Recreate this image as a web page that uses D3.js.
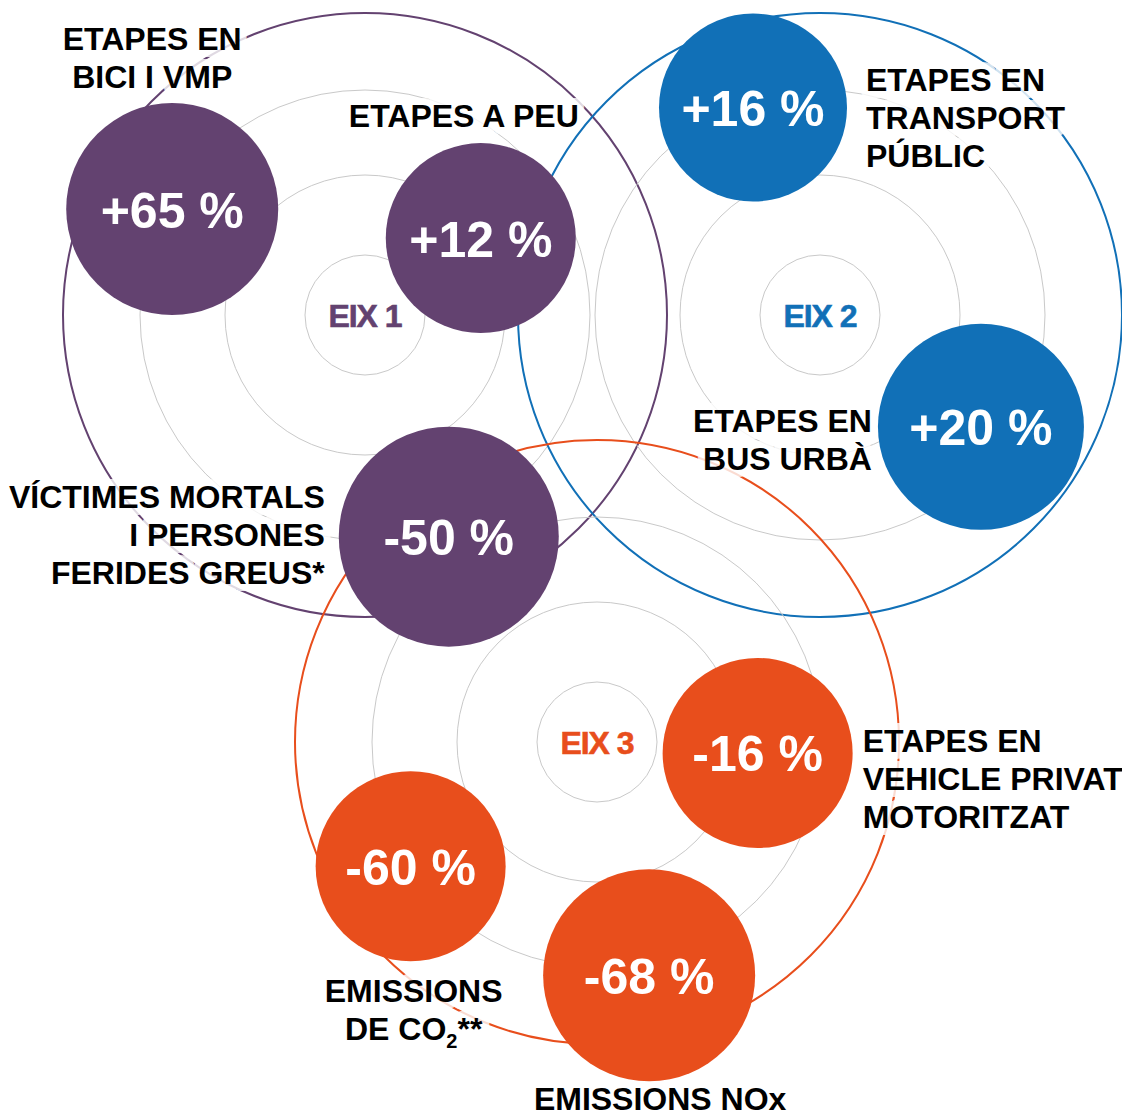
<!DOCTYPE html>
<html>
<head>
<meta charset="utf-8">
<script src="https://cdn.jsdelivr.net/npm/d3@7"></script>
<style>
  html, body { margin: 0; padding: 0; background: #fff; }
  svg { display: block; font-family: "Liberation Sans", Arial, sans-serif; }
</style>
</head>
<body>
<div class="chart"></div>
<script>
// data
var axes = ["EIX 1", "EIX 2", "EIX 3"];
var values = [65, 12, -50, 16, 20, -16, -60, -68];
var axisOf = [0, 0, 0, 1, 1, 2, 2, 2];
var labels = [
  ["ETAPES EN", "BICI I VMP"],
  ["ETAPES A PEU"],
  ["VÍCTIMES MORTALS", "I PERSONES", "FERIDES GREUS*"],
  ["ETAPES EN", "TRANSPORT", "PÚBLIC"],
  ["ETAPES EN", "BUS URBÀ"],
  ["ETAPES EN", "VEHICLE PRIVAT", "MOTORITZAT"],
  ["EMISSIONS", "DE CO|2|**"],
  ["EMISSIONS NOx"]
];

// layout
var svgWidth = 1122, svgHeight = 1116;
var colors = ["#634270", "#1170b7", "#e84e1c"];
var axisCenter = [[365, 315], [820, 315], [597, 742]];
var ringRadii = [60, 140, 225];
var outerRadius = 302;
// bubble placement: angle (deg, clockwise from top), distance from axis centre, radius
var bubbleAngle = [-61.2, 56.4, 159.3, -17.9, 124.8, 93.9, 236.3, 167.4];
var bubbleDist = [220, 139, 237, 218, 196, 161, 224, 239];
var bubbleR = [106, 95, 110, 94, 103, 95, 95, 106];
// label offset from bubble centre + anchor
var labelDx = [-20, -17, -124, 113, -109, 105, 3, 11];
var labelDy = [-159, -111, -29, -17, 5, -1, 136, 135];
var labelAnchor = ["middle", "middle", "end", "start", "end", "start", "middle", "middle"];
var lineHeight = 38;

var angle = d3.scaleLinear().domain([0, 360]).range([0, 2 * Math.PI]);

var svg = d3.select(".chart")
  .append("svg")
  .attr("width", svgWidth)
  .attr("height", svgHeight);

// rings per axis
var groups = svg.selectAll("g.axis")
  .data(axes)
  .enter()
  .append("g")
  .attr("class", "axis")
  .attr("transform", (d, i) => `translate(${axisCenter[i][0]}, ${axisCenter[i][1]})`);

groups.selectAll("circle.ring")
  .data(ringRadii)
  .enter()
  .append("circle")
  .attr("r", d => d)
  .attr("fill", "none")
  .attr("stroke", "#c9c9c9")
  .attr("stroke-width", 1);

groups.append("circle")
  .attr("r", outerRadius)
  .attr("fill", "none")
  .attr("stroke", (d, i) => colors[i])
  .attr("stroke-width", 2);

groups.append("text")
  .attr("y", 0)
  .attr("dy", "0.36em")
  .attr("text-anchor", "middle")
  .style("font-size", "32px")
  .style("font-weight", "bold")
  .style("letter-spacing", "-1px")
  .attr("fill", (d, i) => colors[i])
  .attr("stroke", (d, i) => colors[i])
  .attr("stroke-width", 0.6)
  .text(d => d);

// bubble positions
var pts = values.map(function (v, i) {
  var p = d3.pointRadial(angle(bubbleAngle[i]), bubbleDist[i]);
  var c = axisCenter[axisOf[i]];
  return { value: v, i: i, x: c[0] + p[0], y: c[1] + p[1], r: bubbleR[i] };
});

// labels with white halo
var labelGroup = svg.append("g");
pts.forEach(function (d) {
  ["halo", "fill"].forEach(function (layer) {
    var t = labelGroup.append("text")
      .attr("x", d.x + labelDx[d.i])
      .attr("y", d.y + labelDy[d.i])
      .attr("text-anchor", labelAnchor[d.i])
      .style("font-size", "32px")
      .style("font-weight", "bold")
      .attr("fill", layer == "fill" ? "#000" : "#fff");
    if (layer == "halo") {
      t.attr("stroke", "#fff").attr("stroke-width", 14)
        .attr("stroke-linejoin", "round").attr("opacity", 0.8);
    }
    labels[d.i].forEach(function (line, k) {
      var parts = line.split("|");
      t.append("tspan")
        .attr("x", d.x + labelDx[d.i])
        .attr("dy", k == 0 ? 0 : lineHeight)
        .text(parts[0]);
      if (parts.length > 1) {
        t.append("tspan").attr("dy", 8).style("font-size", "20px").text(parts[1]);
        t.append("tspan").attr("dy", -8).text(parts[2]);
      }
    });
  });
});

// bubbles
svg.selectAll("circle.bubble")
  .data(pts)
  .enter()
  .append("circle")
  .attr("class", "bubble")
  .attr("cx", d => d.x)
  .attr("cy", d => d.y)
  .attr("r", d => d.r)
  .attr("fill", d => colors[axisOf[d.i]]);

svg.selectAll("text.value")
  .data(pts)
  .enter()
  .append("text")
  .attr("class", "value")
  .attr("x", d => d.x)
  .attr("y", d => d.y)
  .attr("dy", "0.37em")
  .attr("text-anchor", "middle")
  .style("font-size", "50px")
  .style("font-weight", "bold")
  .attr("fill", "#fff")
  .text(d => (d.value > 0 ? "+" : "-") + Math.abs(d.value) + " %");
</script>
</body>
</html>
